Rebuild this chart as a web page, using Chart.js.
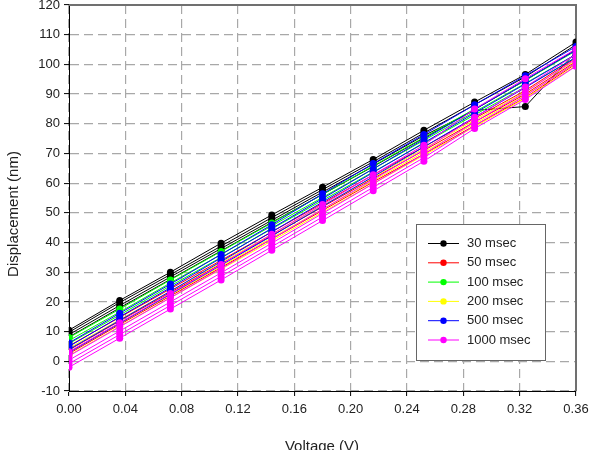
<!DOCTYPE html>
<html>
<head>
<meta charset="utf-8">
<script src="https://cdn.jsdelivr.net/npm/chart.js@4.4.0/dist/chart.umd.min.js"></script>
<style>
  html, body { margin: 0; padding: 0; background: #fff; }
</style>
</head>
<body>
<canvas id="chart" width="590" height="450"></canvas>
<script>
// voltage steps (V)
var voltage = [0, 0.036, 0.072, 0.108, 0.144, 0.18, 0.216, 0.252, 0.288, 0.324, 0.36];
var xTicks = [0, 0.04, 0.08, 0.12, 0.16, 0.20, 0.24, 0.28, 0.32, 0.36];
var yTicks = [-10, 0, 10, 20, 30, 40, 50, 60, 70, 80, 90, 100, 110, 120];

var groupNames = ['30 msec', '50 msec', '100 msec', '200 msec', '500 msec', '1000 msec'];
var groupColors = ['#000000', '#ff0000', '#00ff00', '#ffff00', '#0000ff', '#ff00ff'];

// displacement (nm), several runs per pulse width
var runs30 = [
  [10.5, 20.5, 30.0, 39.8, 49.3, 58.6, 68.0, 77.8, 87.3, 96.6, 107.5],
  [9.8, 19.8, 29.2, 38.8, 48.4, 57.8, 67.2, 76.9, 86.4, 95.8, 106.6],
  [9.0, 18.8, 28.4, 38.0, 47.5, 57.0, 66.4, 76.0, 84.5, 85.8, 104.2],
  [8.2, 18.0, 27.6, 37.2, 46.8, 56.2, 65.6, 75.2, 84.8, 94.6, 105.0]
];
var runs50 = [
  [5.2, 14.8, 24.4, 34.0, 43.6, 53.2, 62.8, 72.2, 81.8, 91.2, 102.2],
  [3.8, 13.6, 23.2, 32.8, 42.4, 52.0, 61.6, 71.0, 80.6, 90.0, 101.0],
  [2.6, 12.4, 22.0, 31.6, 41.2, 50.8, 60.4, 69.8, 79.4, 88.8, 100.2]
];
var runs100 = [
  [8.0, 17.6, 27.4, 37.0, 46.6, 56.2, 65.8, 75.4, 85.0, 94.6, 104.6],
  [7.0, 16.6, 26.4, 36.0, 45.6, 55.2, 64.8, 74.4, 84.0, 93.6, 103.4],
  [6.0, 15.6, 25.4, 35.0, 44.6, 54.2, 63.8, 73.4, 83.0, 92.4, 102.4]
];
var runs200 = [
  [4.4, 14.0, 23.6, 33.2, 42.8, 52.4, 62.0, 71.6, 81.2, 90.8, 101.4],
  [3.2, 12.8, 22.4, 32.0, 41.6, 51.2, 60.8, 70.4, 80.0, 89.6, 100.4],
  [2.0, 11.8, 21.4, 31.0, 40.6, 50.2, 59.8, 69.4, 79.0, 88.6, 99.6]
];
var runs500 = [
  [6.2, 16.2, 26.0, 36.0, 46.0, 56.4, 66.6, 76.4, 86.4, 96.2, 106.0],
  [5.0, 15.0, 24.8, 34.8, 44.8, 54.8, 64.8, 74.8, 84.8, 94.8, 104.8],
  [4.0, 13.8, 23.6, 33.6, 43.6, 53.6, 63.6, 73.6, 83.6, 93.4, 103.4],
  [3.0, 12.8, 22.6, 32.4, 42.2, 52.2, 62.2, 72.2, 82.2, 92.2, 102.4]
];
var runs1000 = [
  [3.2, 13.0, 22.8, 32.6, 42.8, 52.8, 62.8, 72.8, 85.0, 95.2, 105.2],
  [1.8, 11.6, 21.4, 31.2, 41.2, 51.2, 61.2, 71.2, 82.2, 92.4, 103.4],
  [0.4, 10.2, 20.0, 29.8, 39.8, 49.8, 59.8, 69.8, 80.6, 90.6, 101.8],
  [-0.8, 9.0, 18.8, 28.6, 38.6, 48.6, 58.6, 68.6, 79.4, 89.4, 100.6],
  [-2.0, 7.8, 17.6, 27.4, 37.4, 47.4, 57.4, 67.4, 78.4, 88.2, 99.4]
];

var allRuns = [runs30, runs50, runs100, runs200, runs500, runs1000];
// lower order = drawn on top
var drawOrder = [5, 4, 3, 2, 1, 0];

var datasets = [];
allRuns.forEach(function(runs, g) {
  runs.forEach(function(run) {
    datasets.push({
      label: groupNames[g],
      data: voltage.map(function(v, i) { return {x: v, y: run[i]}; }),
      borderColor: groupColors[g],
      backgroundColor: groupColors[g],
      borderWidth: 1,
      pointRadius: 3.5,
      pointBorderWidth: 0,
      order: drawOrder[g]
    });
  });
});

var fontFam = "'Liberation Sans', Arial, sans-serif";

// frame, titles and boxed legend
var extras = {
  id: 'extras',
  beforeDatasetsDraw: function(chart) {
    var ctx = chart.ctx, a = chart.chartArea;
    ctx.save();
    ctx.strokeStyle = '#707070';
    ctx.lineWidth = 2;
    ctx.beginPath();
    ctx.moveTo(a.left, a.top);
    ctx.lineTo(a.right, a.top);
    ctx.lineTo(a.right, a.bottom);
    ctx.stroke();
    ctx.restore();
  },
  afterDraw: function(chart) {
    var ctx = chart.ctx;
    ctx.save();
    ctx.fillStyle = '#222';
    ctx.font = '15px ' + fontFam;
    ctx.textAlign = 'center';
    ctx.textBaseline = 'middle';
    ctx.fillText('Voltage (V)', 322, 447);
    ctx.translate(14, 214);
    ctx.rotate(-Math.PI / 2);
    ctx.fillText('Displacement (nm)', 0, 0);
    ctx.restore();

    // legend box
    ctx.save();
    ctx.fillStyle = '#fff';
    ctx.strokeStyle = '#666';
    ctx.lineWidth = 1;
    ctx.fillRect(416.5, 224.5, 129, 136);
    ctx.strokeRect(416.5, 224.5, 129, 136);
    ctx.font = '13px ' + fontFam;
    ctx.textBaseline = 'middle';
    groupNames.forEach(function(name, i) {
      var y = 243.5 + i * 19.3;
      ctx.strokeStyle = groupColors[i];
      ctx.fillStyle = groupColors[i];
      ctx.beginPath();
      ctx.moveTo(428, y);
      ctx.lineTo(459, y);
      ctx.stroke();
      ctx.beginPath();
      ctx.arc(443.5, y, 3.2, 0, Math.PI * 2);
      ctx.fill();
      ctx.fillStyle = '#222';
      ctx.fillText(name, 467, y);
    });
    ctx.restore();
  }
};

new Chart(document.getElementById('chart'), {
  type: 'line',
  data: { datasets: datasets },
  options: {
    responsive: false,
    animation: false,
    layout: { padding: { top: 5, right: 14, left: 0, bottom: 0 } },
    plugins: { legend: { display: false }, tooltip: { enabled: false } },
    scales: {
      x: {
        type: 'linear',
        min: 0,
        max: 0.36,
        afterFit: function(s) { s.height = 59; s.paddingLeft = 0; s.paddingRight = 0; },
        afterBuildTicks: function(s) { s.ticks = xTicks.map(function(v) { return {value: v}; }); },
        ticks: {
          color: '#222',
          font: { family: fontFam, size: 13 },
          padding: 6,
          maxRotation: 0,
          callback: function(v) { return Number(v).toFixed(2); }
        },
        grid: {
          color: '#a8a8a8',
          lineWidth: 1.2,
          tickColor: '#000',
          tickLength: 5,
          tickBorderDash: [],
          tickWidth: 1
        },
        border: { color: '#000', width: 1, dash: [9, 5] }
      },
      y: {
        min: -10,
        max: 120,
        afterFit: function(s) { s.width = 69; s.paddingTop = 0; s.paddingBottom = 0; },
        afterBuildTicks: function(s) { s.ticks = yTicks.map(function(v) { return {value: v}; }); },
        ticks: {
          color: '#222',
          font: { family: fontFam, size: 13 },
          padding: 4
        },
        grid: {
          color: '#a8a8a8',
          lineWidth: 1.2,
          tickColor: '#000',
          tickLength: 5,
          tickBorderDash: [],
          tickWidth: 1
        },
        border: { color: '#000', width: 1, dash: [9, 5] }
      }
    }
  },
  plugins: [extras]
});
</script>
</body>
</html>
